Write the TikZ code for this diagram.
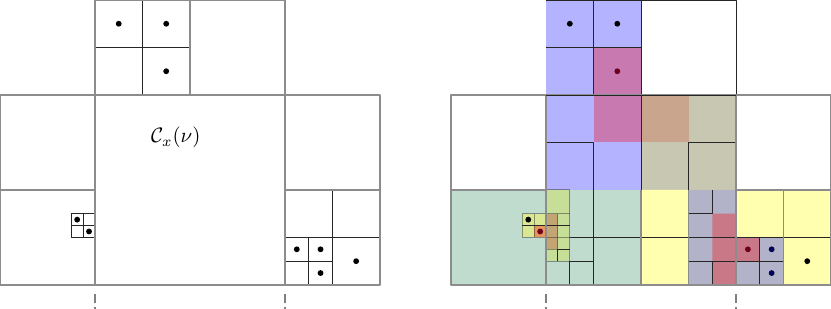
\documentclass[tikz,border=0pt]{standalone}
\definecolor{qtblue}{RGB}{179,179,255}
\definecolor{qtmag}{RGB}{200,122,176}
\definecolor{qtolive}{RGB}{200,200,178}
\definecolor{qtbrown}{RGB}{200,165,140}
\definecolor{qtgreen}{RGB}{192,220,206}
\definecolor{qtyg}{RGB}{198,222,152}
\definecolor{qtlyg}{RGB}{218,232,148}
\definecolor{qtdbrown}{RGB}{195,165,115}
\definecolor{qtorange}{RGB}{230,150,90}
\definecolor{qtyellow}{RGB}{255,255,175}
\definecolor{qtpg}{RGB}{178,178,200}
\definecolor{qtred}{RGB}{200,120,135}
\definecolor{qtdotred}{RGB}{110,0,30}
\definecolor{qtdotnavy}{RGB}{0,0,90}
\begin{document}
\begin{tikzpicture}[x=0.8cm,y=0.8cm,line join=round,
    coarse/.style={draw=black!45,line width=0.7pt},
    fine/.style={draw=black!85,line width=0.45pt},
    faint/.style={draw=black!85,line width=0.45pt,opacity=0.45},
    tick/.style={draw=black!50,line width=0.6pt,dash pattern=on 4pt off 2pt}]
    \def\myqtr{1.4pt}\def\myqtoff{9.5}
    \useasboundingbox (0,-0.505) rectangle (17.5,6);
    % left picture: cells of the tree
    \draw[fine] (2,5)--(4,5)(3,4)--(3,6);
    \draw[fine] (6,1)--(8,1)(7,0)--(7,2)(6,0.5)--(7,0.5)(6.5,0)--(6.5,1);
    \draw[fine] (1.5,1) rectangle (2,1.5)(1.5,1.25)--(2,1.25)(1.75,1)--(1.75,1.5);
    \draw[coarse] (0,0) rectangle (2,2)(0,2) rectangle (2,4)(2,0) rectangle (6,4)(6,0) rectangle (8,2)(6,2) rectangle (8,4)(2,4) rectangle (4,6)(4,4) rectangle (6,6);
    \fill (2.5,5.5) circle (\myqtr)(3.5,5.5) circle (\myqtr)(3.5,4.5) circle (\myqtr)(1.625,1.375) circle (\myqtr)(1.875,1.125) circle (\myqtr);
    \fill (6.25,0.75) circle (\myqtr)(6.75,0.75) circle (\myqtr)(6.75,0.25) circle (\myqtr)(7.5,0.5) circle (\myqtr);
    \node (cxnu) at (3.7,3.1) {$\mathcal{C}_x(\nu)$};
    \draw[tick] (2,-0.2)--(2,-0.52)(6,-0.2)--(6,-0.52);
    % right picture: same tree, coloured
    \begin{scope}[shift={(\myqtoff,0)}]
        \fill[qtblue] (2,2) rectangle (4,6);
        \fill[qtmag] (3,3) rectangle (4,5);
        \fill[qtolive] (4,2) rectangle (6,4);
        \fill[qtbrown] (4,3) rectangle (5,4);
        \fill[qtgreen] (0,0) rectangle (4,2);
        \fill[qtyg] (2,0.5) rectangle (2.5,2);
        \fill[qtdbrown] (2,0.75) rectangle (2.25,1.5);
        \fill[qtlyg] (1.5,1) rectangle (2,1.5);
        \fill[qtorange] (1.75,1) rectangle (2,1.25);
        \fill[qtyellow] (4,0) rectangle (5,2)(6,0) rectangle (8,2);
        \fill[qtpg] (5,0) rectangle (6,2)(6,0) rectangle (7,1);
        \fill[qtred] (5.5,0) rectangle (6,1.5)(6,0.5) rectangle (6.5,1);
        % cell borders
        \draw[fine] (2,5)--(4,5)(3,4)--(3,6)(4,4)--(4,6)(2,6)--(6,6)--(6,4);
        \draw[fine] (2,3)--(3,3)--(3,2)(5,2)--(5,3)--(6,3)(4,2)--(4,4);
        \draw[fine] (2.5,1)--(8,1)(3,0)--(3,2)(2.5,0)--(2.5,0.5)--(3,0.5)(6,0)--(6,2);
        \draw[fine] (5.5,2)--(5.5,1.5)--(5,1.5)(5,0.5)--(6,0.5)(5.5,0)--(5.5,0.5)(6,0.5)--(7,0.5)(6.5,0)--(6.5,1);
        \draw[faint] (1.5,1) rectangle (2,1.5)(1.75,1)--(1.75,1.5)(2.25,0.5)--(2.25,1.5)(2.5,0.5)--(2.5,2)(2,2)--(2.5,2);
        \draw[faint] (2,0.5)--(2.5,0.5)(2,0.75)--(2.5,0.75)(2,1)--(2.5,1)(2,1.5)--(2.5,1.5);
        \draw[fine] (1.5,1.25)--(2.5,1.25)(2.25,0.5)--(2.25,0.75)--(2.5,0.75);
        \draw[coarse] (4,0)--(4,2)(5,0)--(5,2)(7,0)--(7,2);
        \draw[coarse] (0,0) rectangle (2,2)(0,2) rectangle (2,4)(2,0) rectangle (6,4)(6,0) rectangle (8,2)(6,2) rectangle (8,4);
        \draw[fine] (2,4)--(6,4);
        \fill (2.5,5.5) circle (\myqtr)(3.5,5.5) circle (\myqtr)(1.625,1.375) circle (\myqtr)(7.5,0.5) circle (\myqtr);
        \fill[qtdotred] (3.5,4.5) circle (\myqtr)(1.875,1.125) circle (\myqtr)(6.25,0.75) circle (\myqtr);
        \fill[qtdotnavy] (6.75,0.75) circle (\myqtr)(6.75,0.25) circle (\myqtr);
        \draw[tick] (2,-0.2)--(2,-0.52)(6,-0.2)--(6,-0.52);
    \end{scope}
\end{tikzpicture}
\end{document}
